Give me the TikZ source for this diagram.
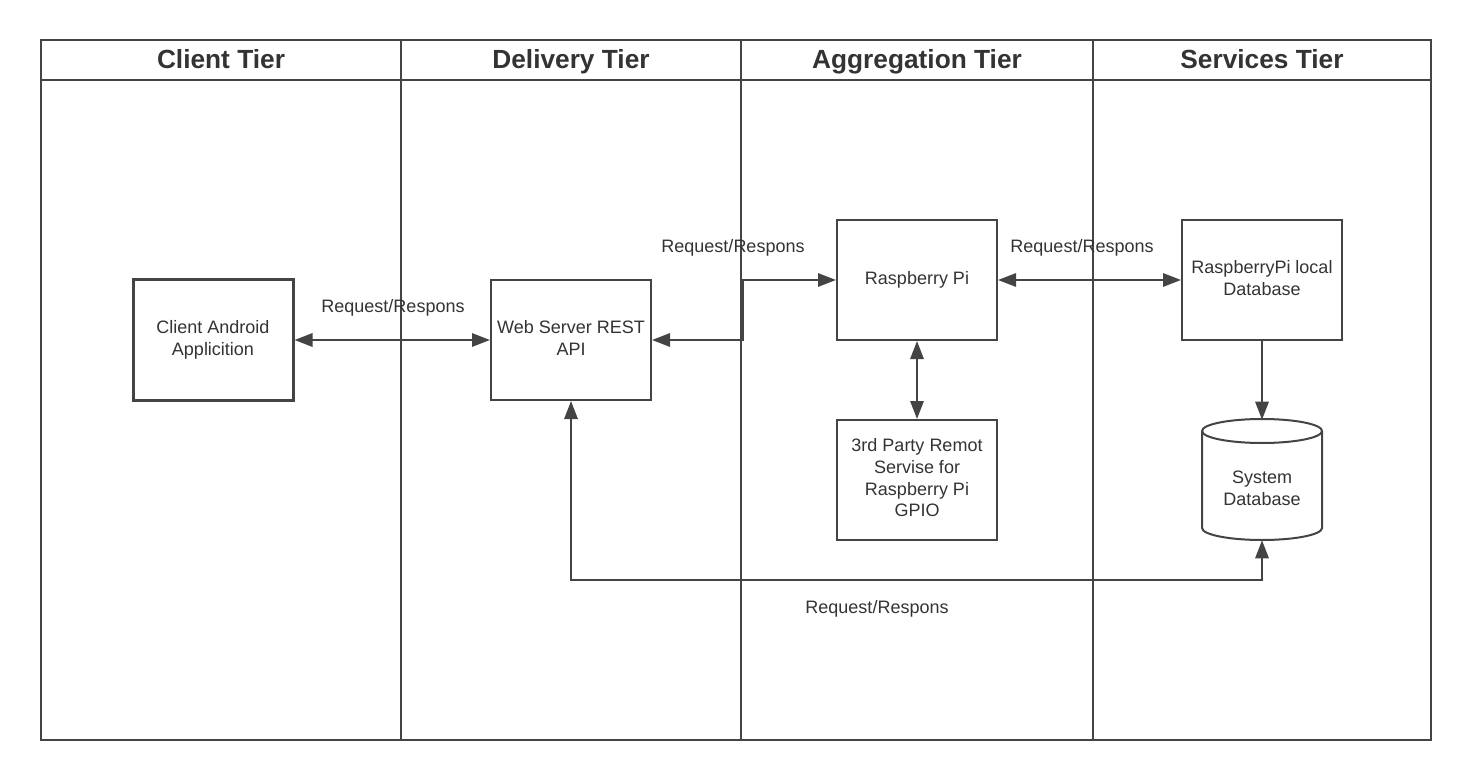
\documentclass[tikz,border=0pt]{standalone}
\usepackage{fontspec}
\setmainfont{Liberation Sans}
\usetikzlibrary{arrows.meta}
\definecolor{ln}{HTML}{444444}
\definecolor{tx}{HTML}{333333}
\newcommand{\bodyfont}{\fontsize{13.5}{16.2}\selectfont}
\newcommand{\headfont}{\fontsize{19.7}{23}\selectfont\bfseries}
\newcommand{\bx}[1]{\raisebox{1.6pt}{\begin{tabular}{@{}c@{}}#1\end{tabular}}}
\begin{document}
\begin{tikzpicture}[x=0.75pt,y=-0.75pt,
  frame/.style={draw=ln, line width=1.5pt},
  box/.style={draw=ln, line width=1.5pt, minimum width=120pt, minimum height=90pt,
    align=center, text=tx, font=\bodyfont, inner sep=0pt},
  head/.style={text=tx, font=\headfont, inner sep=0pt, anchor=base},
  lbl/.style={text=tx, font=\bodyfont, inner sep=0pt, anchor=base},
  tip/.tip={Triangle[length=13.5pt,width=10pt]},
  conn/.style={draw=ln, line width=1.5pt, -tip},
  dbl/.style={draw=ln, line width=1.5pt, tip-tip}]
\useasboundingbox (0,0) rectangle (1473,780);
% frame
\draw[frame] (41,40) rectangle (1431,740);
\draw[frame] (40,80) -- (1432,80);
\foreach \xx in {401,741,1093} \draw[frame] (\xx,40) -- (\xx,740);
% headers
\node[head] (h1) at (221,69) {Client Tier};
\node[head] (h2) at (571,69) {Delivery Tier};
\node[head] (h3) at (917,69) {Aggregation Tier};
\node[head] (h4) at (1262,69) {Services Tier};
% boxes
\node[box, line width=2.25pt] (client) at (213,340) {\bx{Client Android\\Applicition}};
\node[box] (web) at (571,340) {\bx{Web Server REST\\API}};
\node[box] (rpi) at (917,280) {\bx{Raspberry Pi}};
\node[box] (third) at (917,480) {\bx{3rd Party Remot\\Servise for\\Raspberry Pi\\GPIO}};
\node[box] (localdb) at (1262,280) {\bx{RaspberryPi local\\Database}};
% cylinder
\draw[frame, fill=white] (1202,431) -- (1202,528)
  arc[start angle=180,end angle=360,x radius=45pt,y radius=9pt] -- (1322,431)
  arc[start angle=0,end angle=180,x radius=45pt,y radius=9pt] -- cycle;
\draw[frame] (1202,431) arc[start angle=180,end angle=360,x radius=45pt,y radius=9pt];
\node[inner sep=0pt, minimum width=90pt, minimum height=90pt] (sysdb) at (1262,480) {};
\node[text=tx, font=\bodyfont, inner sep=0pt] (sysdbtext) at (1262,490) {\bx{System\\Database}};
% connectors
\draw[dbl] (client.east) -- (web.west);
\draw[dbl] (web.east) -- (743,340) -- (743,280) -- (rpi.west);
\draw[dbl] (rpi.east) -- (localdb.west);
\draw[dbl] (rpi.south) -- (third.north);
\draw[conn] (localdb.south) -- (sysdb.north);
\draw[dbl] (web.south) -- (571,580) -- (1262,580) -- (sysdb.south);
% labels
\node[lbl] (l1) at (393,313) {Request/Respons};
\node[lbl] (l2) at (733,253) {Request/Respons};
\node[lbl] (l3) at (1082,253) {Request/Respons};
\node[lbl] (l4) at (877,613) {Request/Respons};
\end{tikzpicture}
\end{document}
